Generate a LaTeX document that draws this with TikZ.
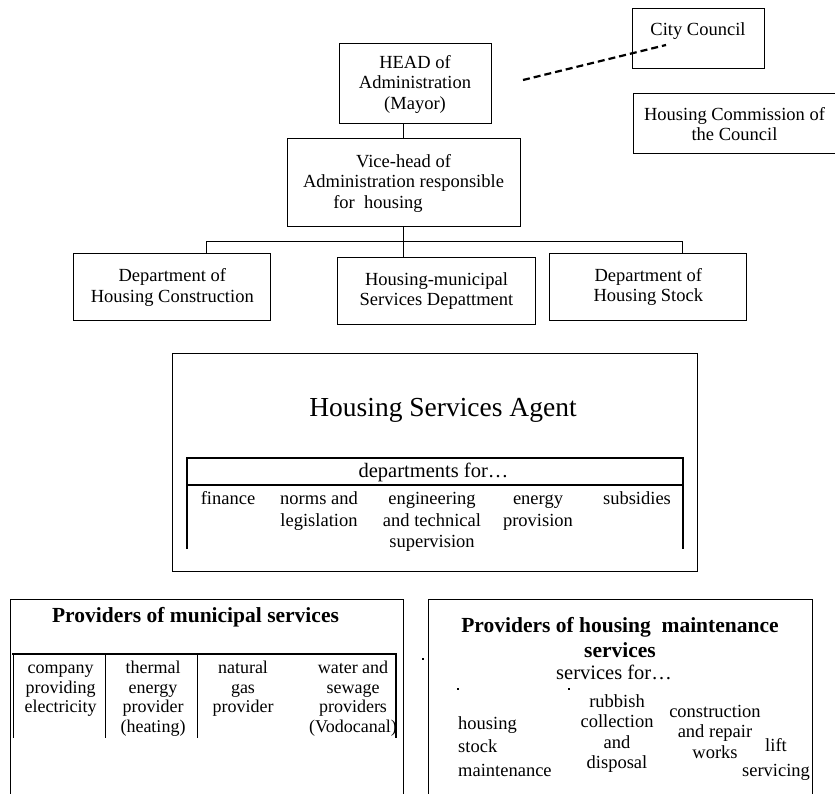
\documentclass[tikz,border=0pt]{standalone}
\usepackage{fontspec}
\setmainfont{Liberation Serif}
\newcommand\tstrut[1][15pt]{\rule{0pt}{#1}}
\tikzset{
  box/.style={draw, line width=1pt, inner sep=0pt, align=center,
    font=\fontsize{18.5}{20.5}\selectfont},
  link/.style={line width=1pt},
  dashlink/.style={line width=2.2pt, dash pattern=on 7pt off 4pt},
  tableline/.style={line width=2pt},
  gridline/.style={line width=1.5pt},
  cell/.style={anchor=north, inner sep=0pt, align=center},
  heading/.style={inner sep=0pt, align=center,
    font=\fontsize{21.5}{25}\selectfont\bfseries}
}

\begin{document}
\begin{tikzpicture}[x=1pt,y=-1pt]
  \useasboundingbox (0,0) rectangle (835,794);
  \clip (0,0) rectangle (835,794);

  %% council side
  \node[box, minimum width=132, minimum height=60, text height=13pt, text depth=19pt]
    (council) at (698,39) {City Council};
  \node[box, minimum width=203, minimum height=60]
    (commission) at (734.5,124) {Housing Commission of\\the Council};

  %% administration
  \node[box, minimum width=152, minimum height=80] (head) at (415,84)
    {HEAD of\\Administration\\(Mayor)};
  \node[box, minimum width=233, minimum height=88] (vice) at (403.5,183)
    {Vice-head of\\Administration responsible\\for~ housing\rule{51pt}{0pt}};

  \node[box, minimum width=196.7, minimum height=66.7] (deptA) at (172.3,287.3)
    {Department of\\Housing Construction};
  \node[box, minimum width=198.7, minimum height=66.7] (deptB) at (436.5,291.3)
    {Housing-municipal\\Services Depattment};
  \node[box, minimum width=196.7, minimum height=66] (deptC) at (648.3,287)
    {Department of\\Housing Stock};

  \coordinate (bar) at (vice.south |- 0,241.5);
  \draw[link] (vice.north) -- (vice.north |- head.south); %% head->vice
  \draw[link] (vice.south) -- (bar); %% vice->bar
  \draw[link] ([xshift=33.7pt]deptA.north) |- (bar) -| ([xshift=33.7pt]deptC.north);
  \draw[link] (bar) -- (bar |- deptB.north); %% bar->deptB

  \coordinate (dashend) at (523,80);
  \draw[dashlink] (dashend) -- ([xshift=-32pt,yshift=-6pt]council.center); % head..council

  %% housing services agent
  \node[box, minimum width=525, minimum height=218] (hsa) at (435.2,462) {};
  \node[inner sep=0pt, font=\fontsize{27.5}{31}\selectfont] (hsatitle) at (443,410)
    {Housing Services Agent};
  \draw[tableline] (187,549) |- (683,458) -- (683,549);
  \draw[tableline] (187,485) -- (683,485);
  \node[inner sep=0pt, font=\fontsize{20.5}{23}\selectfont] (deptsfor) at (433.5,472)
    {departments for…};
  \begin{scope}[every node/.append style={font=\fontsize{18.5}{21.5}\selectfont}]
    \node[cell] (finance) at (228,489.5) {\tstrut finance};
    \node[cell] (norms) at (319,489.5) {\tstrut norms and\\legislation};
    \node[cell] (engin) at (432,489.5) {\tstrut engineering\\and technical\\supervision};
    \node[cell] (energy) at (538,489.5) {\tstrut energy\\provision};
    \node[cell] (subsid) at (637,489.5) {\tstrut subsidies};
  \end{scope}

  %% providers of municipal services
  \node[box, minimum width=392.7, minimum height=260, anchor=north west]
    (munic) at (10,599) {};
  \node[heading] (munictitle) at (195.5,617) {Providers of municipal services};
  \draw[tableline] (12,654) -- (396.7,654);
  \foreach \x in {13.3,105.7,197.3,396}
    \draw[gridline] (\x,654) -- (\x,738);
  \begin{scope}[every node/.append style={font=\fontsize{18}{19.7}\selectfont}]
    \node[cell] (elec) at (60.7,659.3) {\tstrut[13.8pt]company\\providing\\electricity};
    \node[cell] (heat) at (153,659.3) {\tstrut[13.8pt]thermal\\energy\\provider\\(heating)};
    \node[cell] (gas) at (243,659.3) {\tstrut[13.8pt]natural\\gas\\provider};
    \node[cell] (water) at (353,659.3)
      {\tstrut[13.8pt]water and\\sewage\\providers\\(Vodocanal)};
  \end{scope}

  %% providers of housing maintenance services
  \node[box, minimum width=384.3, minimum height=260, anchor=north west]
    (maint) at (427.7,599) {};
  \node[heading] (mainttitle) at (620,637.5) {Providers of housing~ maintenance\\services};
  \node[inner sep=0pt, font=\fontsize{20.5}{23}\selectfont] (servfor) at (614,672)
    {services for…};
  \foreach \p in {(422,658),(457,688),(568,688)}
    \fill \p rectangle ++(1.6,1.6);
  \node[cell, anchor=north west, align=left, font=\fontsize{18.5}{23.5}\selectfont]
    (stock) at (458,712.8) {\tstrut[16.45pt]housing\\stock\\maintenance};
  \node[cell, font=\fontsize{18.5}{20.3}\selectfont] (rubbish) at (617,693.1)
    {\tstrut[14.2pt]rubbish\\collection\\and\\disposal};
  \node[cell, font=\fontsize{18.5}{20.3}\selectfont] (repair) at (715,703.1)
    {\tstrut[14.2pt]construction\\and repair\\works};
  \node[cell, font=\fontsize{18.5}{25}\selectfont] (lift) at (776,733.8)
    {\tstrut[17.5pt]lift\\servicing};
\end{tikzpicture}
\end{document}
